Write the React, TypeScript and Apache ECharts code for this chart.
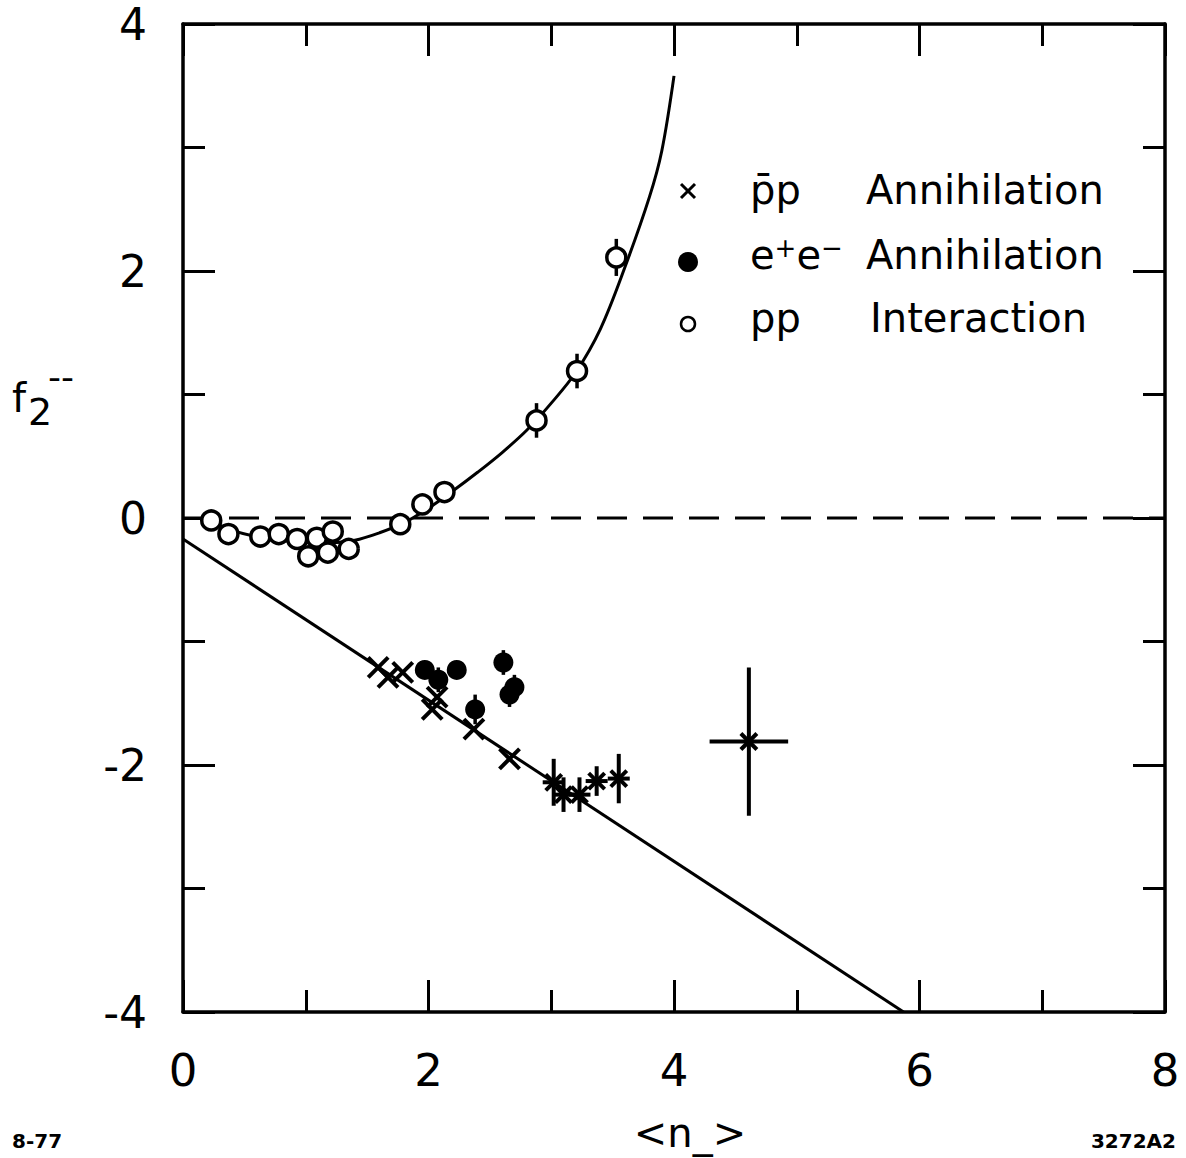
import React, { useEffect, useRef } from "react";
import * as echarts from "echarts";

// ---- data ----
const ppX = [0.23, 0.37, 0.63, 0.78, 0.93, 1.09, 1.22, 1.02, 1.18, 1.35, 1.77, 1.95, 2.13, 2.88, 3.21, 3.53];
const ppY = [-0.02, -0.13, -0.15, -0.13, -0.17, -0.16, -0.11, -0.31, -0.28, -0.25, -0.05, 0.11, 0.21, 0.79, 1.19, 2.11];
const ppErr = [0, 0, 0, 0, 0, 0, 0, 0, 0, 0, 0, 0, 0, 0.14, 0.14, 0.15];

const eeX = [1.97, 2.08, 2.23, 2.38, 2.61, 2.70, 2.66];
const eeY = [-1.23, -1.31, -1.23, -1.55, -1.17, -1.37, -1.43];
const eeErr = [0, 0.1, 0, 0.12, 0.1, 0.1, 0.1];

const crossX = [1.59, 1.67, 1.79, 2.03, 2.07, 2.37, 2.66];
const crossY = [-1.21, -1.29, -1.25, -1.55, -1.45, -1.71, -1.95];

const starX = [3.02, 3.10, 3.23, 3.37, 3.55, 4.61];
const starY = [-2.14, -2.24, -2.24, -2.13, -2.11, -1.81];
const starYErr = [0.19, 0.14, 0.14, 0.12, 0.2, 0.6];
const starXErr = [0, 0, 0, 0, 0, 0.32];

const curveX = [0.23, 0.4, 0.6, 0.8, 1.0, 1.2, 1.4, 1.6, 1.8, 2.0, 2.2, 2.4, 2.6, 2.8, 3.0, 3.2, 3.4, 3.6, 3.8, 3.9, 4.0];
const curveY = [-0.03, -0.1, -0.15, -0.18, -0.2, -0.2, -0.18, -0.12, -0.04, 0.08, 0.22, 0.37, 0.53, 0.71, 0.93, 1.18, 1.53, 2.03, 2.6, 2.97, 3.58];

const lineX = [0, 5.87];
const lineY = [-0.17, -4.0];

const zeroX = [0, 8];
const zeroY = [0, 0];

const xTicks = [0, 2, 4, 6, 8];
const yTicks = [-4, -2, 0, 2, 4];

const FONT = "DejaVu Sans";
const BLACK = "#000";

function zip(a: number[], b: number[]) {
  return a.map((v, i) => [v, b[i]]);
}

export default function App() {
  const ref = useRef<HTMLDivElement>(null);
  useEffect(() => {
    if (!ref.current) return;
    const chart = echarts.init(ref.current, undefined, { renderer: "svg" });

    const axisCommon = {
      type: "value" as const,
      axisLine: { show: true, onZero: false, lineStyle: { color: BLACK, width: 3.5 } },
      axisTick: { show: true, inside: true, length: 32, lineStyle: { color: BLACK, width: 3 } },
      minorTick: { show: true, splitNumber: 2, length: 22, lineStyle: { color: BLACK, width: 3 } },
      splitLine: { show: false },
      minorSplitLine: { show: false },
    };

    const errRender = (params: any, api: any) => {
      const x = api.value(0);
      const y = api.value(1);
      const ey = api.value(2);
      const ex = api.value(3);
      const c = api.coord([x, y]);
      const children: any[] = [];
      if (ey > 0) {
        const t = api.coord([x, y + ey]);
        const b = api.coord([x, y - ey]);
        children.push({ type: "line", shape: { x1: c[0], y1: t[1], x2: c[0], y2: b[1] }, style: { stroke: BLACK, lineWidth: 3.5 } });
      }
      if (ex > 0) {
        const l = api.coord([x - ex, y]);
        const r = api.coord([x + ex, y]);
        children.push({ type: "line", shape: { x1: l[0], y1: c[1], x2: r[0], y2: c[1] }, style: { stroke: BLACK, lineWidth: 3.5 } });
      }
      return { type: "group", children };
    };

    const crossRender = (params: any, api: any) => {
      const c = api.coord([api.value(0), api.value(1)]);
      const s = 10;
      return {
        type: "group",
        children: [
          { type: "line", shape: { x1: c[0] - s, y1: c[1] - s, x2: c[0] + s, y2: c[1] + s }, style: { stroke: BLACK, lineWidth: 4 } },
          { type: "line", shape: { x1: c[0] - s, y1: c[1] + s, x2: c[0] + s, y2: c[1] - s }, style: { stroke: BLACK, lineWidth: 4 } },
        ],
      };
    };

    const starRender = (params: any, api: any) => {
      const x = api.value(0);
      const y = api.value(1);
      const ey = api.value(2);
      const ex = api.value(3);
      const c = api.coord([x, y]);
      const s = 11;
      const d = 8;
      const st = { stroke: BLACK, lineWidth: 4 };
      const children: any[] = [
        { type: "line", shape: { x1: c[0] - d, y1: c[1] - d, x2: c[0] + d, y2: c[1] + d }, style: st },
        { type: "line", shape: { x1: c[0] - d, y1: c[1] + d, x2: c[0] + d, y2: c[1] - d }, style: st },
      ];
      const t = api.coord([x, y + ey]);
      const b = api.coord([x, y - ey]);
      children.push({ type: "line", shape: { x1: c[0], y1: Math.min(t[1], c[1] - s), x2: c[0], y2: Math.max(b[1], c[1] + s) }, style: st });
      const l = api.coord([x - ex, y]);
      const r = api.coord([x + ex, y]);
      children.push({ type: "line", shape: { x1: Math.min(l[0], c[0] - s), y1: c[1], x2: Math.max(r[0], c[0] + s), y2: c[1] }, style: st });
      return { type: "group", children };
    };

    const option: any = {
      animation: false,
      backgroundColor: "#fff",
      grid: { left: 183, right: 21, top: 24, bottom: 146, containLabel: false },
      xAxis: [
        {
          ...axisCommon,
          position: "bottom",
          min: 0,
          max: 8,
          interval: 2,
          axisLabel: {
            show: true,
            fontSize: 45,
            lineHeight: 40,
            fontFamily: FONT,
            color: BLACK,
            margin: 38,
            formatter: (v: number) => (xTicks.includes(v) ? String(v) : ""),
          },
        },
        {
          ...axisCommon,
          position: "top",
          min: 0,
          max: 8,
          interval: 2,
          axisLabel: { show: false },
        },
      ],
      yAxis: [
        {
          ...axisCommon,
          position: "left",
          min: -4,
          max: 4,
          interval: 2,
          axisLabel: {
            show: true,
            fontSize: 44,
            lineHeight: 34,
            padding: [8, 0, 0, 0],
            fontFamily: FONT,
            color: BLACK,
            margin: 36,
            formatter: (v: number) => (yTicks.includes(v) ? String(v) : ""),
          },
        },
        {
          ...axisCommon,
          position: "right",
          min: -4,
          max: 4,
          interval: 2,
          axisLabel: { show: false },
        },
      ],
      series: [
        {
          type: "line",
          data: zip(zeroX, zeroY),
          showSymbol: false,
          symbol: "none",
          lineStyle: { color: BLACK, width: 3, type: [30, 16] },
          z: 1,
        },
        {
          type: "line",
          data: zip(lineX, lineY),
          symbol: "none",
          lineStyle: { color: BLACK, width: 3 },
          z: 1,
        },
        {
          type: "line",
          data: zip(curveX, curveY),
          symbol: "none",
          smooth: 0.35,
          lineStyle: { color: BLACK, width: 3 },
          z: 1,
        },
        {
          type: "custom",
          renderItem: errRender,
          data: ppX.map((x, i) => [x, ppY[i], ppErr[i], 0]),
          encode: { x: 0, y: 1 },
          z: 2,
        },
        {
          type: "custom",
          renderItem: errRender,
          data: eeX.map((x, i) => [x, eeY[i], eeErr[i], 0]),
          encode: { x: 0, y: 1 },
          z: 2,
        },
        {
          type: "custom",
          renderItem: crossRender,
          data: zip(crossX, crossY),
          encode: { x: 0, y: 1 },
          z: 3,
        },
        {
          type: "custom",
          renderItem: starRender,
          data: starX.map((x, i) => [x, starY[i], starYErr[i], starXErr[i]]),
          encode: { x: 0, y: 1 },
          z: 3,
        },
        {
          type: "scatter",
          data: zip(eeX, eeY),
          symbol: "circle",
          symbolSize: 20,
          itemStyle: { color: BLACK, opacity: 1 },
          z: 4,
        },
        {
          type: "scatter",
          data: zip(ppX, ppY),
          symbol: "circle",
          symbolSize: 19,
          itemStyle: { color: "#fff", borderColor: BLACK, borderWidth: 3.5, opacity: 1 },
          z: 4,
        },
      ],
      graphic: [
        // legend symbols
        { type: "line", shape: { x1: 681, y1: 184, x2: 695, y2: 198 }, style: { stroke: BLACK, lineWidth: 3 } },
        { type: "line", shape: { x1: 681, y1: 198, x2: 695, y2: 184 }, style: { stroke: BLACK, lineWidth: 3 } },
        { type: "circle", shape: { cx: 688, cy: 262, r: 10 }, style: { fill: BLACK } },
        { type: "circle", shape: { cx: 688, cy: 324, r: 7 }, style: { fill: "#fff", stroke: BLACK, lineWidth: 2.5 } },
        // legend labels
        { type: "text", x: 750, y: 190, style: { text: "p\u0304p", font: `40px "${FONT}"`, fill: BLACK, verticalAlign: "middle" } },
        {
          type: "text",
          x: 750,
          y: 255,
          style: {
            text: "{b|e}{s|+}{b|e}{s|\u2212}",
            verticalAlign: "middle",
            fill: BLACK,
            rich: {
              b: { fontSize: 40, fontFamily: FONT, fill: BLACK, verticalAlign: "bottom" },
              s: { fontSize: 26, fontFamily: FONT, fill: BLACK, verticalAlign: "top" },
            },
          },
        },
        { type: "text", x: 750, y: 318, style: { text: "pp", font: `40px "${FONT}"`, fill: BLACK, verticalAlign: "middle" } },
        { type: "text", x: 866, y: 190, style: { text: "Annihilation", font: `40px "${FONT}"`, fill: BLACK, verticalAlign: "middle" } },
        { type: "text", x: 866, y: 255, style: { text: "Annihilation", font: `40px "${FONT}"`, fill: BLACK, verticalAlign: "middle" } },
        { type: "text", x: 870, y: 318, style: { text: "Interaction", font: `40px "${FONT}"`, fill: BLACK, verticalAlign: "middle" } },
        // y axis title f2--
        { type: "text", x: 12, y: 398, style: { text: "f", font: `40px "${FONT}"`, fill: BLACK, verticalAlign: "middle" } },
        { type: "text", x: 28, y: 412, style: { text: "2", font: `38px "${FONT}"`, fill: BLACK, verticalAlign: "middle" } },
        { type: "text", x: 48, y: 376, style: { text: "--", font: `36px "${FONT}"`, fill: BLACK, verticalAlign: "middle" } },
        // x axis title
        { type: "text", x: 690, y: 1133, style: { text: "<n_>", font: `40px "${FONT}"`, fill: BLACK, align: "center", verticalAlign: "middle" } },
        // corner notes
        { type: "text", x: 12, y: 1141, style: { text: "8-77", font: `bold 20px "${FONT}"`, fill: BLACK, verticalAlign: "middle" } },
        { type: "text", x: 1176, y: 1141, style: { text: "3272A2", font: `bold 20px "${FONT}"`, fill: BLACK, align: "right", verticalAlign: "middle" } },
      ],
    };
    chart.setOption(option);
    return () => chart.dispose();
  }, []);
  return (
    <div
      ref={ref}
      style={{ position: "fixed", left: 0, top: 0, width: 1186, height: 1158, background: "#fff" }}
    />
  );
}
